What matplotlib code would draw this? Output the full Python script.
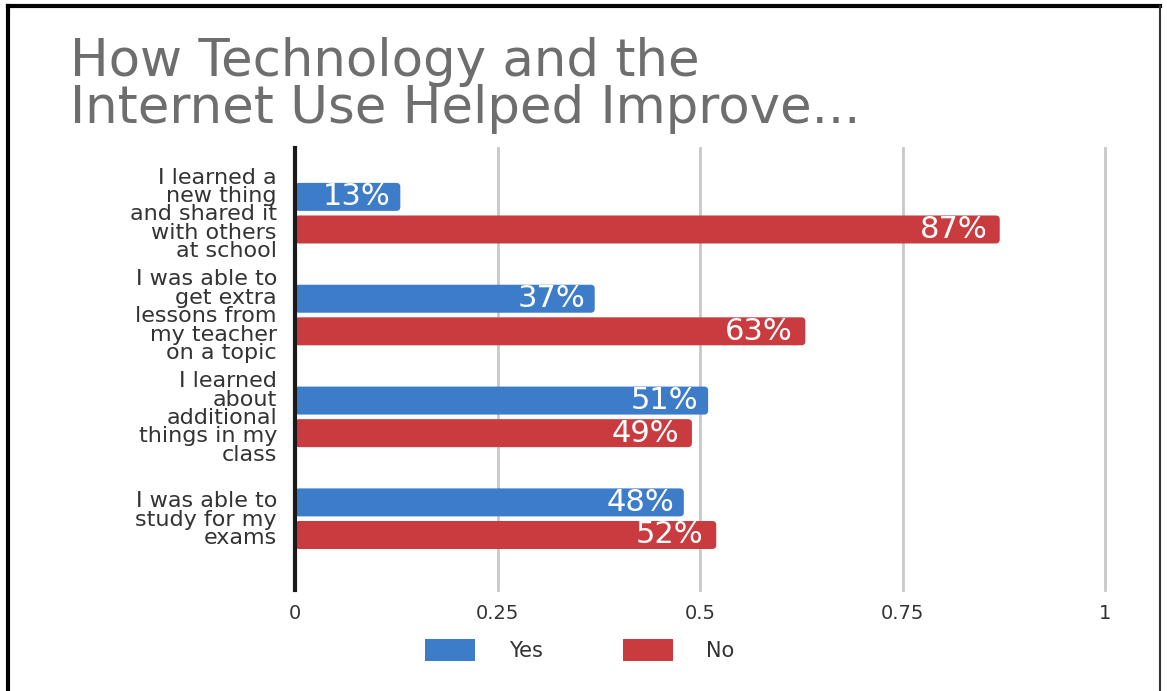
from matplotlib import pyplot as plt
from matplotlib.patches import FancyBboxPatch, Patch
from matplotlib.lines import Line2D

# Survey answers (percent)
questions = [
    "I learned a\nnew thing\nand shared it\nwith others\nat school",
    "I was able to\nget extra\nlessons from\nmy teacher\non a topic",
    "I learned\nabout\nadditional\nthings in my\nclass",
    "I was able to\nstudy for my\nexams",
]
yes_pct = [13, 37, 51, 48]
no_pct = [87, 63, 49, 52]
x_ticks = [0, 0.25, 0.5, 0.75, 1]
x_tick_labels = ["0", "0.25", "0.5", "0.75", "1"]

blue = "#3d7cc9"
red = "#c93b3e"

plt.rcParams['font.family'] = ['DejaVu Sans']

fig = plt.figure(figsize=(11.67, 6.91), dpi=100)
ax = fig.add_axes([0.2528, 0.1462, 0.6941, 0.6396])

bar_h = 0.275
off = 0.16
pos = list(range(len(questions)))

yes_bars = ax.barh([p - off for p in pos], [v / 100 for v in yes_pct], height=bar_h, color=blue)
no_bars = ax.barh([p + off for p in pos], [v / 100 for v in no_pct], height=bar_h, color=red)

ax.set_xlim(0, 1)
ax.set_ylim(3.70, -0.64)

# swap the square bars for rounded ones of the same size
fig.canvas.draw()
bbox = ax.get_window_extent()
px_x = 1.0 / bbox.width          # data units per pixel along x
px_y = 4.34 / bbox.height        # data units per pixel along y
for bars in (yes_bars, no_bars):
    for r in bars:
        x, y = r.get_x(), r.get_y()
        w, h = r.get_width(), r.get_height()
        rounded = FancyBboxPatch((x, y), w, h,
                                 boxstyle="round,pad=0,rounding_size=%f" % (4 * px_x),
                                 mutation_aspect=px_y / px_x,
                                 facecolor=r.get_facecolor(), edgecolor='none', zorder=3)
        r.remove()
        ax.add_patch(rounded)

# value labels at the bar ends
for p, v in zip(pos, yes_pct):
    ax.annotate(f"{v}%", xy=(v / 100, p - off), xytext=(-7, 0), textcoords='offset points',
                ha='right', va='center', color='white', fontsize=22, zorder=4)
for p, v in zip(pos, no_pct):
    ax.annotate(f"{v}%", xy=(v / 100, p + off), xytext=(-9, 0), textcoords='offset points',
                ha='right', va='center', color='white', fontsize=22, zorder=4)

# vertical grid and zero line
for t in x_ticks[1:]:
    ax.axvline(t, color='#c8c8c8', linewidth=2, zorder=1, clip_on=False)
ax.axvline(0, color='#1a1a1a', linewidth=3, zorder=5, clip_on=False)

ax.set_xticks(x_ticks)
ax.set_xticklabels(x_tick_labels, fontsize=14, color='#333333')
ax.set_yticks(pos)
ax.set_yticklabels(questions, fontsize=16, color='#333333', linespacing=0.9)
ax.tick_params(axis='x', length=0, pad=10)
ax.tick_params(axis='y', length=0, pad=13)
for s in ax.spines.values():
    s.set_visible(False)

fig.text(0.06, 0.947, "How Technology and the\nInternet Use Helped Improve...",
         fontsize=37, color='#6e6e6e', ha='left', va='top', linespacing=0.93)

handles = [Patch(facecolor=blue, label='Yes'), Patch(facecolor=red, label='No')]
fig.legend(handles=handles, loc='center', bbox_to_anchor=(0.497, 0.059), ncol=2,
           frameon=False, fontsize=15, handlelength=2.4, handleheight=1.2,
           handletextpad=1.6, columnspacing=3.85, labelcolor='#333333')

# frame around the graphic (no bottom edge)
frame = dict(transform=None, color='black', linewidth=3)
fig.add_artist(Line2D([8, 8], [0, 685], **frame))
fig.add_artist(Line2D([8, 1160], [685, 685], **frame))
fig.add_artist(Line2D([1160, 1160], [0, 685], transform=None, color='#333333', linewidth=1.5))

fig.savefig('out.png', dpi=100)
